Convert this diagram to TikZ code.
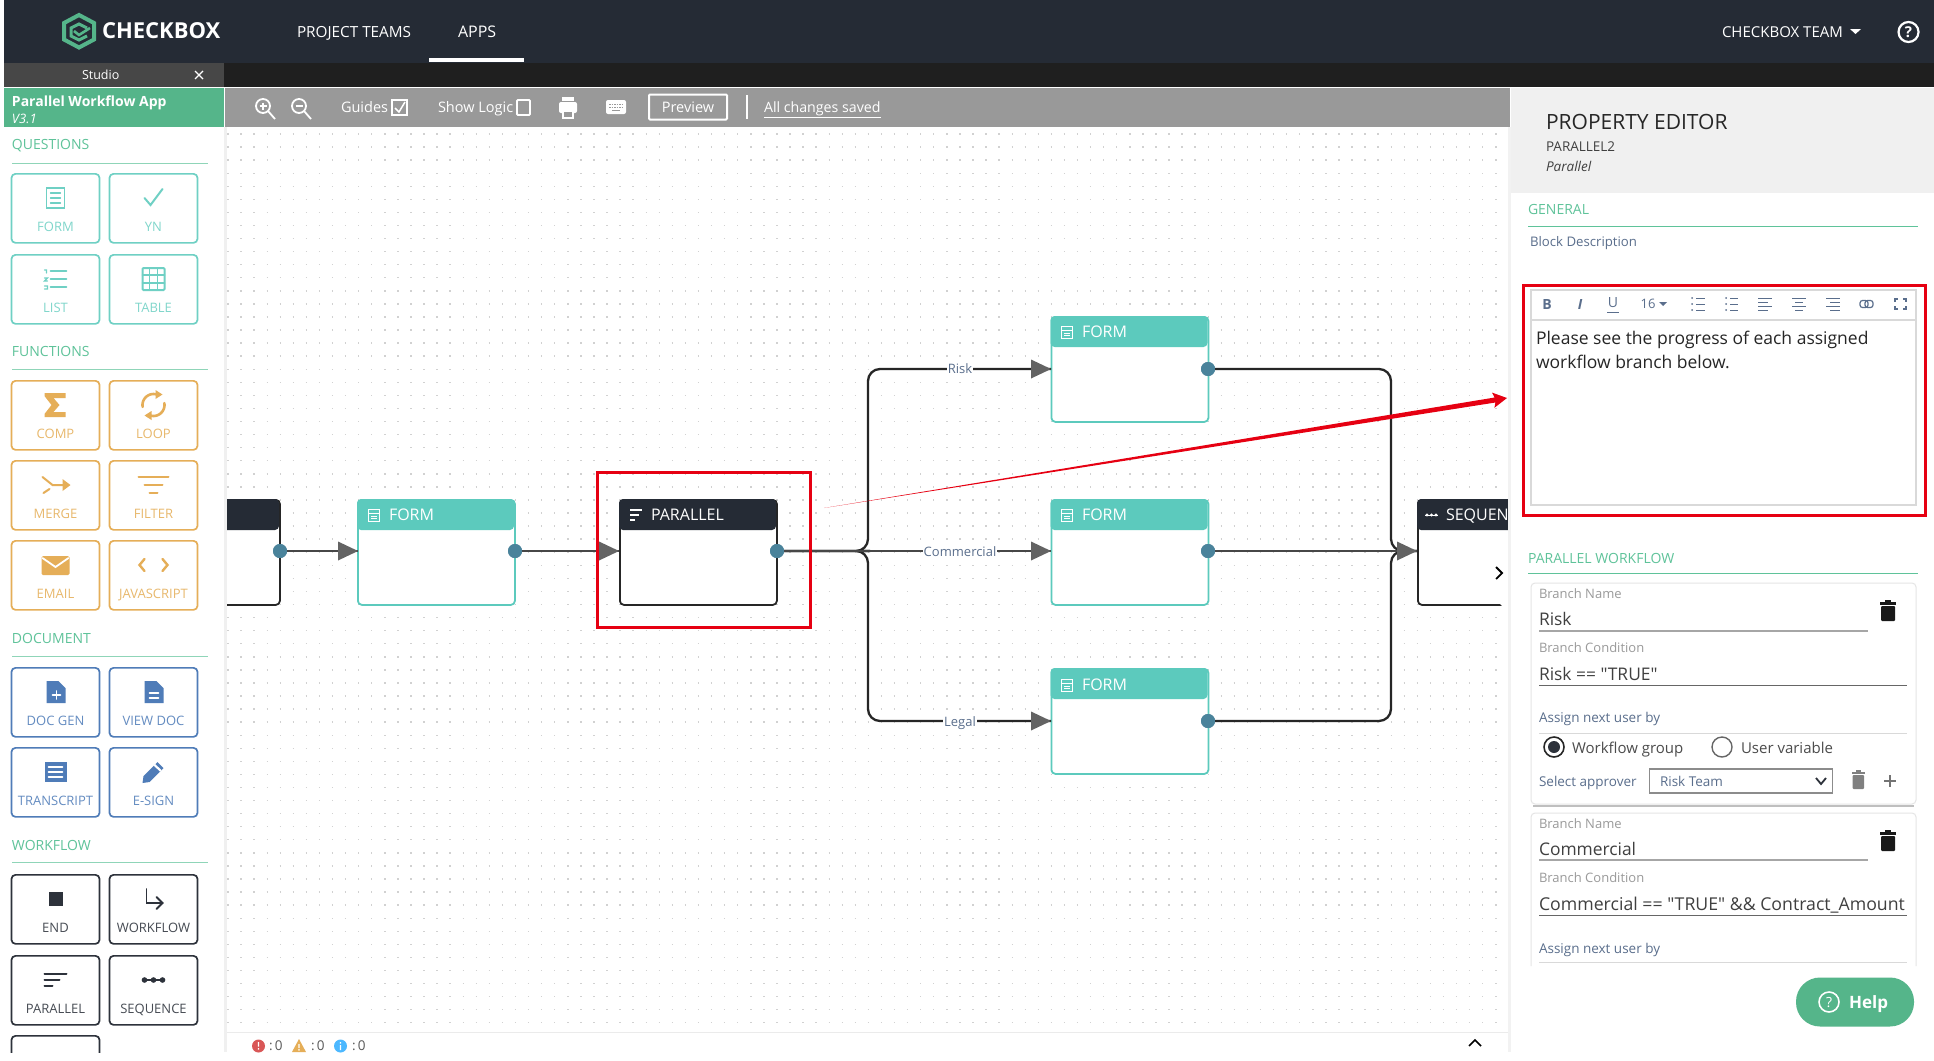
\documentclass[tikz,border=0pt]{standalone}
\usepackage{fontspec}
\setmainfont{Open Sans}[Ligatures=TeXOff]
\usetikzlibrary{arrows.meta}
\definecolor{darkbar}{HTML}{252B35}
\definecolor{brandg}{HTML}{55B58A}
\definecolor{teal}{HTML}{5CCABD}
\definecolor{tealtxt}{HTML}{6FD0C4}
\definecolor{orng}{HTML}{E5AE58}
\definecolor{docb}{HTML}{4F7CB8}
\definecolor{dk}{HTML}{2D323B}
\definecolor{port}{HTML}{4A839B}
\definecolor{headg}{HTML}{636363}
\definecolor{redm}{HTML}{E60012}
\definecolor{labg}{HTML}{5FC39A}
\definecolor{bluet}{HTML}{5A6E8C}
\definecolor{greyt}{HTML}{9A9A9A}
\newcommand\fz[1]{\fontsize{#1}{#1}\selectfont}
\tikzset{
 x=1pt,y=-1pt,
 txt/.style={inner sep=0pt,outer sep=0pt,anchor=west,text depth=0pt},
 pbox/.style={draw,line width=1.7pt,rounded corners=4pt,fill=white,minimum width=88pt,minimum height=69pt,inner sep=0pt,anchor=north},
 plab/.style={inner sep=0pt,font=\fz{13},text depth=0pt},
 sect/.style={txt,font=\fz{14},text=labg},
 sline/.style={line width=1pt,draw=labg!70},
 block/.style={draw,line width=1.8pt,rounded corners=4pt,fill=white,minimum width=157pt,minimum height=105pt,inner sep=0pt,anchor=north west},
 bhead/.style={txt,font=\fz{16},text=white},
 conn/.style={line width=2.3pt,draw=black!85!white,rounded corners=12pt},
 connb/.style={line width=2pt,draw=black!72},
 headtri/.style={fill=headg},
 portdot/.style={circle,fill=port,minimum size=14pt,inner sep=0pt},
 redbox/.style={draw=redm,line width=3pt},
 flab/.style={txt,font=\fz{13},text=greyt},
 fval/.style={txt,font=\fz{17.4},text=black!75},
 blab/.style={txt,font=\fz{13.5},text=bluet},
 icon/.style={line width=1.6pt,line cap=round},
}
% name, centre x, top y, colour, label, icon code
\newcommand\pbtn[6]{%
 \node[pbox,draw=#4] (b#1) at (#2,#3) {};
 \node[plab,text=#4!88!white] (l#1) at (#2,#3+54) {#5};
 \begin{scope}[shift={(#2,#3+25)},draw=#4,fill=#4,text=#4,icon]#6\end{scope}}
\newcommand\headbar[4]{%
 \path[fill=#4,rounded corners=4pt] (#2,#3) -- (#2+157,#3) -- (#2+157,#3+15) -- (#2+157,#3+31) -- (#2,#3+31) -- cycle;}
\newcommand\smallform[2]{%
 \begin{scope}[shift={(#1,#2)},draw=white,line width=1pt]
 \draw (-5.5,-6) rectangle (5.5,6);
 \draw[line width=.8pt] (-5.5,-2)--(5.5,-2) (-3,1)--(3,1) (-3,3.5)--(3,3.5);
 \end{scope}}
\newcommand\arrowin[2]{\fill[headtri] (#1,#2) -- (#1-20,#2-9.5) -- (#1-20,#2+9.5) -- cycle;}
\begin{document}
\begin{tikzpicture}
\useasboundingbox (0,0) rectangle (1934,1060);
\fill[white] (0,0) rectangle (1934,1060);
% canvas dots, one dashed line per row
\foreach \j in {0,...,68} { \draw[black!18,line width=1.4pt,dash pattern=on 1.4pt off 11.67pt] (227.3,134+13.07*\j) -- (1510,134+13.07*\j); }
% top bars
\fill[darkbar] (4,0) rectangle (1934,63);
\fill[black!88] (224,63) rectangle (1934,87);
\fill[black!72!white] (4,63) rectangle (224,87);
\node[txt,text=white,font=\fz{12.5}] (studio) at (82,75) {Studio};
\draw[white,line width=1.2pt] (195,71) -- (203,79) (203,71) -- (195,79);
% logo
\draw[brandg,line width=4pt,line join=miter] (79,15) -- (94,23) -- (94,39.5) -- (79,47.5) -- (64,39.5) -- (64,23) -- cycle;
\draw[brandg,line width=3pt] (87,28) -- (79,24) -- (71,28) -- (71,36) -- (79,40) -- (87,36);
\draw[brandg,line width=2.6pt] (74,31) -- (79,35) -- (90,28);
\node[txt,text=white,font=\fz{22}\bfseries] (logo) at (102,31) {CHECKBOX};
\node[txt,text=white,font=\fz{15.3}] (pteams) at (297,32) {PROJECT TEAMS};
\node[txt,text=white,font=\fz{16}] (apps) at (458,32) {APPS};
\fill[white] (429,58) rectangle (524,62);
\node[txt,text=white,font=\fz{15}] (team) at (1722,32) {CHECKBOX TEAM};
\fill[white] (1850,29) -- (1861,29) -- (1855.5,34) -- cycle;
\draw[white,line width=2.2pt] (1908.5,32) circle (10);
\node[text=white,font=\fz{15}\bfseries,inner sep=0pt,text depth=0pt] (qm) at (1908.5,32) {?};
% app bar
\fill[brandg] (4,88) rectangle (224,127);
\node[txt,text=white,font=\fz{14}\bfseries] (appname) at (12,101) {Parallel Workflow App};
\node[txt,text=white,font=\fz{13}\itshape] (ver) at (12,119) {V3.1};
% toolbar
\fill[black!40] (225,88) rectangle (1510,127);
\begin{scope}[white,line width=1.8pt]
\draw (263,106) circle (7); \draw (268,111) -- (275,119); \draw (259.5,106) -- (266.5,106) (263,102.5) -- (263,109.5);
\draw (299,106) circle (7); \draw (304,111) -- (311,119); \draw (295.5,106) -- (302.5,106);
\node[txt,text=white,font=\fz{14.5}] (guides) at (341,107) {Guides};
\draw[line width=1.5pt] (392,100) rectangle (407,115);
\draw[line width=1.5pt] (395,108) -- (399,112) -- (405,102);
\node[txt,text=white,font=\fz{14.5}] (logic) at (438,107) {Show Logic};
\draw[line width=1.8pt,rounded corners=1pt] (517,100) rectangle (530,115);
\fill[white,rounded corners=2pt] (559,102) rectangle (577,113);
\fill[white] (562,97) rectangle (574,101);
\fill[white] (562,110) rectangle (574,119);
\fill[black!40] (564,112) rectangle (572,117);
\fill[white,rounded corners=2pt] (606,100) rectangle (626,114);
\draw[black!40,line width=1pt,dash pattern=on 1.5pt off 1pt] (609,104) -- (623,104) (609,107) -- (623,107);
\draw[black!40,line width=1pt] (612,110.5) -- (620,110.5);
\end{scope}
\node[draw=white,line width=2pt,text=white,font=\fz{14.5},minimum width=78pt,minimum height=25pt,inner sep=0pt,rounded corners=1pt] (preview) at (688,107) {Preview};
\draw[white,line width=2.4pt] (747,95) -- (747,119);
\node[txt,text=white,font=\fz{14.2}] (saved) at (764,107) {\underline{All changes saved}};
% side shadow
\fill[black!6] (224,127) rectangle (227,1052);
% palette
\node[sect] (sq) at (12,144) {QUESTIONS};
\draw[sline] (12,163) -- (208,163);
\pbtn{form}{55.5}{173}{tealtxt}{FORM}{\draw[line width=1.6pt] (-9,-10) rectangle (9,10); \draw[line width=1.3pt] (-5,-5)--(5,-5) (-5,0)--(5,0) (-5,5)--(5,5);}
\pbtn{yn}{153.5}{173}{tealtxt}{YN}{\draw[line width=2pt] (-9,0) -- (-3,7) -- (9,-9);}
\pbtn{list}{55.5}{254}{tealtxt}{LIST}{\draw[line width=1.9pt] (-5,-8)--(11,-8) (-5,0)--(11,0) (-5,8)--(11,8); \draw[line width=1.2pt] (-11,-9)--(-9,-9)--(-9,-6) (-11,-1)--(-8,-1)--(-11,2)--(-8,2) (-11,7)--(-8,7)--(-8,10)--(-11,10);}
\pbtn{table}{153.5}{254}{tealtxt}{TABLE}{\draw[line width=2pt,rounded corners=1pt] (-11,-11) rectangle (11,11); \draw[line width=1.7pt] (-11,-4)--(11,-4) (-11,4)--(11,4) (-4,-11)--(-4,11) (4,-11)--(4,11);}
\node[sect] (sf) at (12,351) {FUNCTIONS};
\draw[sline] (12,369) -- (208,369);
\pbtn{comp}{55.5}{380}{orng}{COMP}{\fill (-11,-12) -- (10,-12) -- (10,-7) -- (-2,-7) -- (4,0) -- (-2,7) -- (10,7) -- (10,12) -- (-11,12) -- (-11,9) -- (-4,0) -- (-11,-9) -- cycle;}
\pbtn{loop}{153.5}{380}{orng}{LOOP}{\draw[line width=2.6pt] plot[domain=190:75,samples=16] ({11*cos(\x)},{-11*sin(\x)}); \draw[line width=2.6pt] plot[domain=10:-105,samples=16] ({11*cos(\x)},{-11*sin(\x)}); \fill (2,-15) -- (2,-6) -- (9,-10.5) -- cycle; \fill (-2,15) -- (-2,6) -- (-9,10.5) -- cycle;}
\pbtn{merge}{55.5}{460}{orng}{MERGE}{\draw[line width=2pt] (-13,-8) -- (-3,0) -- (11,0); \draw[line width=2pt] (-12,8) -- (-6,4); \fill (15,0) -- (7,-6) -- (7,6) -- cycle;}
\pbtn{filter}{153.5}{460}{orng}{FILTER}{\draw[line width=2pt] (-15,-8)--(15,-8) (-9,0)--(9,0) (-4,8)--(4,8);}
\pbtn{email}{55.5}{540}{orng}{EMAIL}{\fill[rounded corners=1.5pt] (-14,-9) rectangle (14,10); \draw[white,line width=1.8pt] (-13,-7) -- (0,2) -- (13,-7);}
\pbtn{js}{153.5}{540}{orng}{JAVASCRIPT}{\draw[line width=2.4pt] (-9,-6) -- (-14,0) -- (-9,6) (9,-6) -- (14,0) -- (9,6);}
\node[sect] (sd) at (12,638) {DOCUMENT};
\draw[sline] (12,656) -- (208,656);
\pbtn{docgen}{55.5}{667}{docb}{DOC GEN}{\fill (-9,-11) -- (3,-11) -- (10,-4) -- (10,11) -- (-9,11) -- cycle; \draw[white,line width=1.8pt] (1,-1) -- (1,7) (-3,3) -- (5,3);}
\pbtn{viewdoc}{153.5}{667}{docb}{VIEW DOC}{\fill (-9,-11) -- (3,-11) -- (10,-4) -- (10,11) -- (-9,11) -- cycle; \draw[white,line width=1.6pt] (-4,1) -- (5,1) (-4,6) -- (5,6);}
\pbtn{trans}{55.5}{747}{docb}{TRANSCRIPT}{\fill (-11,-10) rectangle (11,10); \draw[white,line width=1.6pt] (-7,-5) -- (7,-5) (-7,0) -- (7,0) (-7,5) -- (7,5);}
\pbtn{esign}{153.5}{747}{docb}{E-SIGN}{\fill (-11,11) -- (-10,4) -- (4,-10) -- (10,-4) -- (-4,10) -- cycle; \fill[white] (0,-6.5) -- (1.5,-8) -- (8,-2) -- (6.5,-.5) -- cycle;}
\node[sect] (sw) at (12,845) {WORKFLOW};
\draw[sline] (12,862) -- (208,862);
\pbtn{end}{55.5}{874}{dk}{END}{\fill (-7,-7) rectangle (7,7);}
\pbtn{wflow}{153.5}{874}{dk}{WORKFLOW}{\draw[line width=1.8pt] (-7,-10) -- (-7,4) -- (9,4); \draw[line width=1.8pt] (3,-2) -- (9,4) -- (3,10);}
\pbtn{par}{55.5}{955}{dk}{PARALLEL}{\draw[line width=2pt] (-11,-6)--(11,-6) (-11,0)--(4,0) (-11,6)--(-3,6);}
\pbtn{seq}{153.5}{955}{dk}{SEQUENCE}{\draw[line width=1.5pt] (-11,0)--(11,0); \fill (-9,0) circle (2.8) (0,0) circle (2.8) (9,0) circle (2.8);}
\begin{scope}
\clip (0,1030) rectangle (224,1052);
\node[pbox,draw=dk] (bnext) at (55.5,1035) {};
\end{scope}
% blocks ----------------------------------------------------
\begin{scope}
\clip (227,127) rectangle (1510,1030);
\node[block,draw=black!85!white] (prev) at (122,499) {};
\headbar{pv}{122}{499}{darkbar}
\node[block,draw=teal] (f0) at (357,499) {};
\headbar{h0}{357}{499}{teal}
\node[block,draw=black!85!white] (par) at (619,499) {};
\headbar{hp}{619}{499}{darkbar}
\node[block,draw=teal] (f1) at (1050.5,316) {};
\headbar{h1}{1050.5}{316}{teal}
\node[block,draw=teal] (f2) at (1050.5,499) {};
\headbar{h2}{1050.5}{499}{teal}
\node[block,draw=teal] (f3) at (1050.5,668) {};
\headbar{h3}{1050.5}{668}{teal}
\node[block,draw=black!85!white] (seq) at (1417,499) {};
\headbar{hs}{1417}{499}{darkbar}
\node[portdot] (pprev) at (280,551) {};
\node[portdot] (p0) at (515,551) {};
\node[portdot] (pp) at (777,551) {};
\node[portdot] (p1) at (1208,369) {};
\node[portdot] (p2) at (1208,551) {};
\node[portdot] (p3) at (1208,721) {};
\coordinate (i0) at (358,551);
\coordinate (ip) at (619,551);
\coordinate (i1) at (1051,369);
\coordinate (i2) at (1051,551);
\coordinate (i3) at (1051,721);
\coordinate (is) at (1417,551);
\draw[connb] (pprev) -- (i0);
\draw[connb] (p0) -- (ip);
\draw[conn] (pp) -- (858,551) -- (868,551) |- (i1);
\draw[conn] (pp) -- (858,551) -- (868,551) |- (i3);
\draw[connb] (pp) -- (i2);
\draw[conn] (p1) -| (1391,551) -- (is);
\draw[conn] (p3) -| (1391,551) -- (is);
\draw[connb] (p2) -- (is);
\arrowin{358}{551}\arrowin{619}{551}\arrowin{1051}{369}\arrowin{1051}{551}\arrowin{1051}{721}\arrowin{1417}{551}
\node[portdot] at (280,551) {};
\node[portdot] at (515,551) {};
\node[portdot] at (777,551) {};
\node[portdot] at (1208,369) {};
\node[portdot] at (1208,551) {};
\node[portdot] at (1208,721) {};
% block labels
\smallform{374}{515}\node[bhead] (t0) at (389,515) {FORM};
\draw[white,line width=1.3pt] (630,510)--(642,510) (630,515)--(639,515) (630,520)--(635,520);
\node[bhead] (tp) at (651,515) {PARALLEL};
\smallform{1067}{332}\node[bhead] (t1) at (1082,332) {FORM};
\smallform{1067}{515}\node[bhead] (t2) at (1082,515) {FORM};
\smallform{1067}{685}\node[bhead] (t3) at (1082,685) {FORM};
\draw[white,line width=1pt] (1425,515)--(1438,515); \fill[white] (1427,515) circle (1.7) (1431.5,515) circle (1.7) (1436,515) circle (1.7);
\node[bhead] (ts) at (1446,515) {SEQUENCE};
% edge labels
\foreach \n/\t/\x/\y in {lr/Risk/960/369,lc/Commercial/960/552,ll/Legal/960/722}
 \node[fill=white,inner sep=1pt,font=\fz{13},text=bluet,text depth=0pt] (\n) at (\x,\y) {\t};
\end{scope}
% expand tab
\fill[white] (1510,540) .. controls (1494,544) and (1486,558) .. (1486,571) .. controls (1486,586) and (1494,602) .. (1510,612) -- cycle;
\draw[black,line width=1.8pt] (1496,567) -- (1502,573) -- (1496,579);
% status bar
\draw[black!8,line width=1pt] (227,1032) -- (1510,1032);
\fill[white] (227,1033) rectangle (1510,1060);
\fill[red!60!white!85!black] (258.5,1046) circle (6.5);
\fill[white] (257.8,1042) rectangle (259.2,1046.5) (257.8,1048) rectangle (259.2,1049.5);
\node[txt,font=\fz{13.5},text=black!65] (s1) at (269,1046) {:\,0};
\fill[orng] (299,1039) -- (306,1052) -- (292,1052) -- cycle;
\fill[white] (298.3,1044) rectangle (299.7,1048) (298.3,1049) rectangle (299.7,1050.5);
\node[txt,font=\fz{13.5},text=black!65] (s2) at (311,1046) {:\,0};
\fill[blue!40!cyan!70!white] (340.5,1046) circle (6.5);
\fill[white] (339.8,1042) rectangle (341.2,1043.5) (339.8,1045) rectangle (341.2,1050);
\node[txt,font=\fz{13.5},text=black!65] (s3) at (352,1046) {:\,0};
\draw[black,line width=1.5pt] (1469,1046) -- (1475,1040) -- (1481,1046);
% property panel
\fill[white] (1510,88) rectangle (1934,1060);
\fill[black!5] (1508,127) rectangle (1511,1052);
\fill[black!6] (1511,88) rectangle (1934,193);
\node[txt,font=\fz{21},text=black!85] (pe) at (1546,122) {PROPERTY EDITOR};
\node[txt,font=\fz{13.5},text=black!75] (pe2) at (1546,147) {PARALLEL2};
\node[txt,font=\fz{13.5}\itshape,text=black!75] (pe3) at (1546,166) {Parallel};
\node[sect] (gen) at (1528,209) {GENERAL};
\draw[sline,draw=labg] (1528,226) -- (1918,226);
\node[txt,font=\fz{13.2},text=bluet] (bd) at (1530,241) {Block Description};
% editor
\draw[black!15,line width=1.2pt] (1531,290) rectangle (1916,505);
\draw[black!15,line width=1.2pt] (1531,320) -- (1916,320);
\begin{scope}[bluet]
\node[font=\fz{14}\bfseries,text=bluet,inner sep=0pt] (eb) at (1547,304) {B};
\node[font=\fz{14}\bfseries\itshape,text=bluet,inner sep=0pt] (ei) at (1580,304) {I};
\node[font=\fz{14},text=bluet,inner sep=0pt] (eu) at (1613,303) {U};
\draw[line width=1pt] (1607,312) -- (1619,312);
\node[font=\fz{13},text=bluet,inner sep=0pt] (e16) at (1648,304) {16};
\fill (1659,302) -- (1667,302) -- (1663,306) -- cycle;
\foreach \x/\a/\b in {1692/1696/1705,1726/1730/1738}{\draw[line width=1pt] (\a,298)--(\b,298) (\a,304)--(\b,304) (\a,310)--(\b,310);\fill (\x,298) circle (1) (\x,304) circle (1) (\x,310) circle (1);}
\draw[line width=1pt] (1758,298)--(1772,298) (1758,302)--(1768,302) (1758,306)--(1772,306) (1758,310)--(1768,310);
\draw[line width=1pt] (1792,298)--(1806,298) (1795,302)--(1803,302) (1792,306)--(1806,306) (1795,310)--(1803,310);
\draw[line width=1pt] (1826,298)--(1840,298) (1830,302)--(1840,302) (1826,306)--(1840,306) (1830,310)--(1840,310);
\draw[line width=1.2pt,rounded corners=2.5pt] (1860,300.5) rectangle (1868,307.5);
\draw[line width=1.2pt,rounded corners=2.5pt] (1865,300.5) rectangle (1873,307.5);
\draw[line width=1.2pt] (1895,302) -- (1895,299) -- (1898,299) (1903,299) -- (1906,299) -- (1906,302) (1906,306) -- (1906,309) -- (1903,309) (1898,309) -- (1895,309) -- (1895,306);
\end{scope}
\node[txt,font=\fz{17.5},text=black!85] (ed1) at (1536,338) {Please see the progress of each assigned};
\node[txt,font=\fz{17.5},text=black!85] (ed2) at (1536,362) {workflow branch below.};
% parallel workflow
\node[sect] (pw) at (1528,558) {PARALLEL WORKFLOW};
\draw[sline,draw=labg] (1528,573) -- (1918,573);
% card 1
\draw[black!10,line width=1pt,rounded corners=4pt,fill=white] (1531,583) rectangle (1916,804);
\draw[black!25,line width=1.8pt] (1533,806) -- (1914,806);
\node[flab] (c1a) at (1539,594) {Branch Name};
\node[fval] (c1b) at (1539,619) {Risk};
\draw[black!35,line width=1.5pt] (1539,631) -- (1868,631);
\node[flab] (c1c) at (1539,648) {Branch Condition};
\node[fval] (c1d) at (1539,674) {Risk == "TRUE"};
\draw[black!60,line width=1pt] (1539,685) -- (1907,685);
\node[blab] (c1e) at (1539,717) {Assign next user by};
\draw[black!15,line width=1pt] (1539,733) -- (1907,733);
\draw[black!85,line width=1.6pt] (1554,747) circle (10);
\fill[dk] (1554,747) circle (6);
\node[txt,font=\fz{15},text=black!70] (c1f) at (1572,748) {Workflow group};
\draw[black!60,line width=1.4pt] (1722,747) circle (10);
\node[txt,font=\fz{15},text=black!70] (c1g) at (1741,748) {User variable};
\node[blab] (c1h) at (1539,781) {Select approver};
\node[draw=black!45,line width=1.3pt,minimum width=183pt,minimum height=24pt,inner sep=0pt,anchor=west] (c1s) at (1649,781) {};
\node[txt,font=\fz{13.5},text=bluet] (c1i) at (1660,781) {Risk Team};
\draw[dk,line width=1.8pt] (1816,778) -- (1821,784) -- (1826,778);
\fill[black!50,rounded corners=1pt] (1852.5,775) rectangle (1864,789);
\fill[black!50] (1851.5,771.5) rectangle (1865,774);
\fill[black!50] (1855.5,770) rectangle (1861,771.5);
\draw[black!55,line width=1.4pt] (1884,781) -- (1896,781) (1890,775) -- (1890,787);
% card 2 (clipped)
\draw[black!10,line width=1pt,rounded corners=4pt] (1531,966) -- (1531,813) -- (1916,813) -- (1916,966);
\node[flab] (c2a) at (1539,824) {Branch Name};
\node[fval] (c2b) at (1539,849) {Commercial};
\draw[black!35,line width=1.5pt] (1539,860) -- (1868,860);
\node[flab] (c2c) at (1539,878) {Branch Condition};
\begin{scope}
\clip (1530,890) rectangle (1907,915);
\node[fval,font=\fz{17.7}] (c2d) at (1539,904) {Commercial == "TRUE" \&\& Contract\_Amount >};
\end{scope}
\draw[black!60,line width=1pt] (1539,915) -- (1907,915);
\node[blab] (c2e) at (1539,948) {Assign next user by};
\draw[black!15,line width=1pt] (1539,962) -- (1907,962);
% trash icons
\foreach \x/\y in {1888/611,1888/841}{
 \fill[black!90,rounded corners=1pt] (\x-7,\y-5) rectangle (\x+7,\y+10);
 \fill[black!90] (\x-8,\y-9) rectangle (\x+8,\y-6);
 \fill[black!90] (\x-3,\y-11) rectangle (\x+3,\y-9);
}
% help
\node[fill=brandg,rounded corners=24pt,minimum width=118pt,minimum height=49pt,inner sep=0pt] (help) at (1855,1002) {};
\draw[white,line width=1.6pt] (1829,1002) circle (10);
\node[text=white,font=\fz{14},inner sep=0pt,text depth=0pt] (hq) at (1829,1002) {?};
\node[txt,text=white,font=\fz{17}\bfseries] (ht) at (1849,1002) {Help};
% red marks
\draw[redbox] (597,472) rectangle (810,627);
\draw[redbox] (1523,285) rectangle (1925,515);
\coordinate (ra) at (824,508);
\coordinate (rb) at (1507,398);
\fill[redm] (ra) -- (1494.6,397.5) -- (1492,392.6) -- (rb) -- (1494.4,407.8) -- (1495.4,402.5) -- cycle;
\end{tikzpicture}
\end{document}
